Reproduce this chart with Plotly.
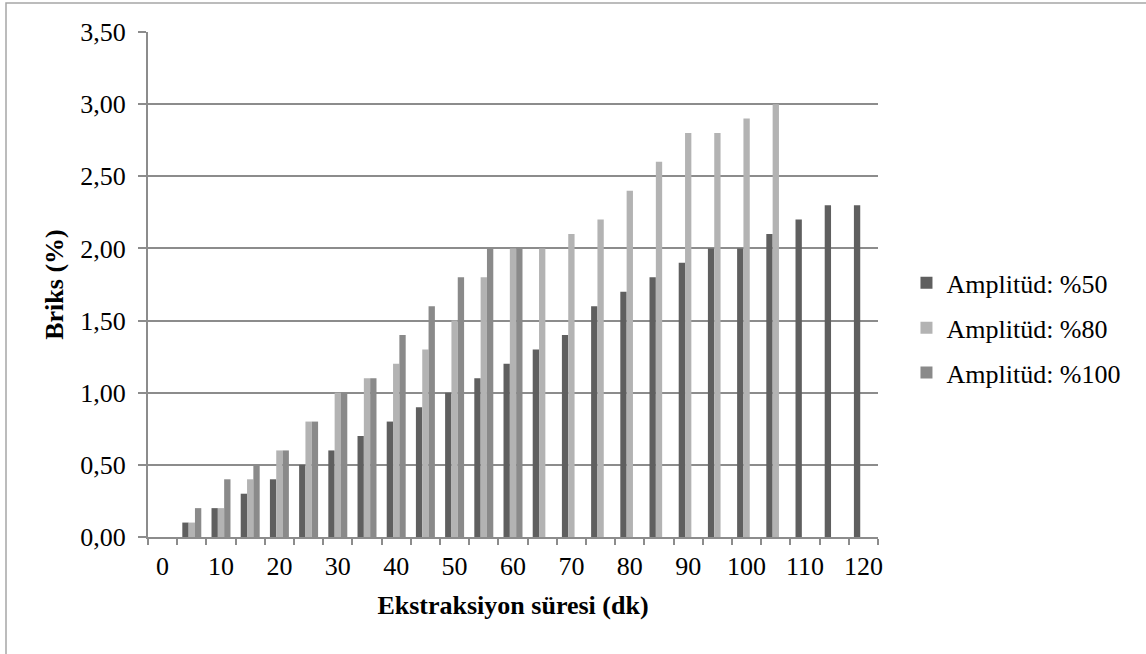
import plotly.graph_objects as go

# Extraction time (min) and Brix (%) for three amplitude settings
times = list(range(0, 125, 5))
amp50 = [0, 0.1, 0.2, 0.3, 0.4, 0.5, 0.6, 0.7, 0.8, 0.9, 1.0, 1.1, 1.2, 1.3, 1.4,
         1.6, 1.7, 1.8, 1.9, 2.0, 2.0, 2.1, 2.2, 2.3, 2.3]
amp80 = [0, 0.1, 0.2, 0.4, 0.6, 0.8, 1.0, 1.1, 1.2, 1.3, 1.5, 1.8, 2.0, 2.0, 2.1,
         2.2, 2.4, 2.6, 2.8, 2.8, 2.9, 3.0, None, None, None]
amp100 = [0, 0.2, 0.4, 0.5, 0.6, 0.8, 1.0, 1.1, 1.4, 1.6, 1.8, 2.0, 2.0, None, None,
          None, None, None, None, None, None, None, None, None, None]
series_names = ["Amplitüd: %50", "Amplitüd: %80", "Amplitüd: %100"]
x_tick_vals = list(range(0, 130, 10))
y_tick_vals = [i * 0.5 for i in range(8)]

colors = ["#5f5f5f", "#b3b3b3", "#8a8a8a"]
grid = "#8c8c8c"
font = "Liberation Serif, Times New Roman, serif"
fs = 26

fig = go.Figure()
for name, vals, col in zip(series_names, [amp50, amp80, amp100], colors):
    fig.add_trace(go.Bar(x=times, y=vals, name=name, marker_color=col,
                         marker_line_width=0, legendgroup=name))

fig.update_layout(
    width=1146, height=654,
    margin=dict(l=148, r=268, t=32, b=117),
    paper_bgcolor="white", plot_bgcolor="white",
    barmode="group", bargap=0.35, bargroupgap=0,
    separators=",.",
    font=dict(family=font, size=fs, color="black"),
    showlegend=True,
    legend=dict(x=1.039, xanchor="left", y=0.414, yanchor="middle",
                font=dict(family=font, size=fs, color="black"),
                tracegroupgap=8, traceorder="grouped", itemwidth=30),
    xaxis=dict(
        range=[-2.5, 122.5], tickmode="array", tickvals=x_tick_vals,
        ticktext=[str(v) for v in x_tick_vals], ticks="", showgrid=False,
        showline=True, linecolor=grid, linewidth=2, zeroline=False,
        ticklabelstandoff=5,
        minor=dict(tickvals=[t - 2.5 for t in times] + [122.5], ticks="outside",
                   ticklen=6, tickcolor=grid, tickwidth=2, showgrid=False),
        title=dict(text="<b>Ekstraksiyon süresi (dk)</b>", standoff=16,
                   font=dict(size=fs)),
        fixedrange=True,
    ),
    yaxis=dict(
        range=[0, 3.5], tickmode="array", tickvals=y_tick_vals,
        tickformat=".2f", ticks="outside", ticklen=8, tickcolor=grid, tickwidth=2,
        showgrid=True, gridcolor=grid, gridwidth=2,
        showline=True, linecolor=grid, linewidth=2, zeroline=False,
        ticklabelstandoff=7,
        title=dict(text="<b>Briks (%)</b>", standoff=9, font=dict(size=fs)),
        fixedrange=True,
    ),
    shapes=[dict(type="rect", xref="paper", yref="paper",
                 x0=(6 - 148) / 730, x1=(1150 - 148) / 730,
                 y0=(537 - 660) / 505, y1=(537 - 3) / 505,
                 line=dict(color="#a6a6a6", width=1.5), layer="below")],
)

fig.write_html("out.html")
